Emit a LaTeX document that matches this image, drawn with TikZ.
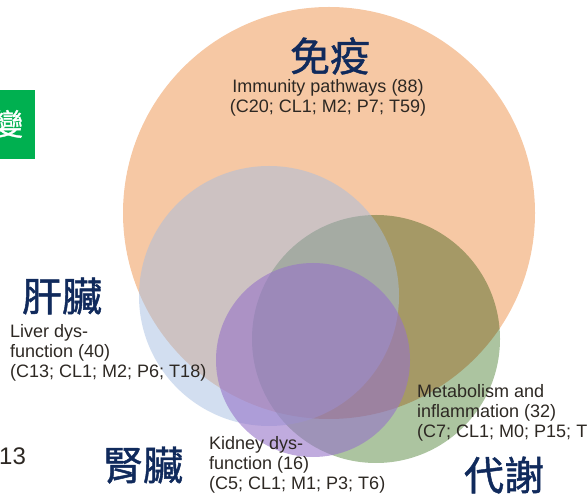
\documentclass[tikz,border=0pt]{standalone}
\usepackage{fontspec}
\usepackage{tkz-euclide}
\setmainfont{Liberation Sans}
\newfontfamily\cjk[FakeBold=1.2]{Noto Sans CJK TC}
\definecolor{immuno}{RGB}{246,200,164}
\definecolor{metab}{RGB}{172,196,160}
\definecolor{liver}{RGB}{165,189,225}
\definecolor{kidney}{RGB}{150,115,200}
\definecolor{zhnavy}{RGB}{16,42,92}
\definecolor{labelgrey}{RGB}{45,40,35}
\definecolor{boxgreen}{RGB}{0,176,80}

\begin{document}
\begin{tikzpicture}[x=1pt,y=1pt,
    lbl/.style={inner sep=0pt, text=labelgrey, font=\fontsize{18}{20}\selectfont, align=left},
    zh/.style={inner sep=0pt, text=zhnavy, font=\cjk\fontsize{40}{40}\selectfont}]
    \useasboundingbox (0,0) rectangle (588,495);
    \tkzDefPoint(329,282){I}
    \tkzDefShiftPoint[I](0:206){Ir}
    \tkzDefPoint(376,156){M}
    \tkzDefShiftPoint[M](0:124){Mr}
    \tkzDefPoint(269,199){L}
    \tkzDefShiftPoint[L](0:130){Lr}
    \tkzDefPoint(313,135){K}
    \tkzDefShiftPoint[K](0:97){Kr}
    \tkzFillCircle[fill=immuno](I,Ir)
    \begin{scope}[blend mode=multiply]
        \tkzFillCircle[fill=metab](M,Mr)
    \end{scope}
    \tkzFillCircle[fill=liver,fill opacity=.5](L,Lr)
    \tkzFillCircle[fill=kidney,fill opacity=.6](K,Kr)
    \node[zh] (immZh) at (330,439) {免疫};
    \node[lbl, align=center] (immTxt) at (328,397) {Immunity pathways (88)\\(C20; CL1; M2; P7; T59)};
    \node[zh] (livZh) at (62,199) {肝臟};
    \node[lbl, anchor=west] (livTxt) at (10,142) {Liver dys-\\function (40)\\(C13; CL1; M2; P6; T18)};
    \node[zh] (kidZh) at (143,30) {腎臟};
    \node[lbl, anchor=west] (kidTxt) at (209,30) {Kidney dys-\\function (16)\\(C5; CL1; M1; P3; T6)};
    \node[lbl, anchor=west] (metTxt) at (417,82) {Metabolism and\\inflammation (32)\\(C7; CL1; M0; P15; T};
    \node[zh] (metZh) at (504,20) {代謝};
    \node[inner sep=0pt, anchor=west, text=labelgrey, font=\fontsize{24}{24}\selectfont] (pgNum) at (-1,39) {13};
    % green tab, cut by the left edge
    \fill[boxgreen] (-40,336) rectangle (35,405);
    \node[inner sep=0pt, text=white, font=\cjk\fontsize{30}{30}\selectfont] (chgZh) at (8,371) {變};
\end{tikzpicture}
\end{document}
